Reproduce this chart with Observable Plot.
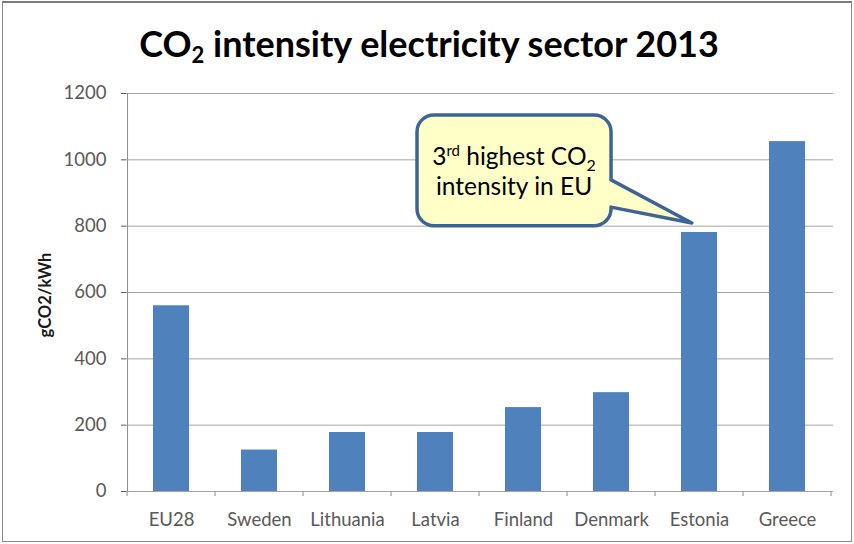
<!DOCTYPE html>
<html>
<head>
<meta charset="utf-8">
<script src="https://cdn.jsdelivr.net/npm/d3@7"></script>
<script src="https://cdn.jsdelivr.net/npm/@observablehq/plot@0.6"></script>
<style>
  html, body { margin: 0; padding: 0; background: #fff; }
  #wrap { position: relative; width: 854px; height: 544px; overflow: hidden; background: #fff; }
  #frame { position: absolute; left: 2px; top: 1px; width: 848px; height: 538px; border: 1.5px solid #8a8a8a; border-top: 2.5px solid #7a7a7a; }
  #title { position: absolute; left: 0; top: 21px; width: 858px; text-align: center; font-family: Lato, sans-serif; font-weight: bold; font-size: 36px; line-height: 44px; color: #000; }
  #title sub { font-size: 22px; vertical-align: -6px; line-height: 0; }
  #chart { position: absolute; left: 0; top: 80px; }
</style>
</head>
<body>
<div id="wrap">
  <div id="frame"></div>
  <div id="title">CO<sub>2</sub> intensity electricity sector 2013</div>
  <div id="chart"></div>
</div>
<script>
// ---- data ----
const countries = ["EU28", "Sweden", "Lithuania", "Latvia", "Finland", "Denmark", "Estonia", "Greece"];
const intensity = [560, 125, 178, 178, 253, 298, 781, 1055];
const yTicks = [0, 200, 400, 600, 800, 1000, 1200];
const yLabel = "gCO2/kWh";
// callout annotation (data units)
const calloutTarget = "Estonia";
const calloutTargetValue = 808;
const calloutBoxTop = 1134;
const calloutBoxBottom = 800;
const calloutLine1 = ["3", "rd", " highest CO", "2"];
const calloutLine2 = "intensity in EU";

const data = countries.map((c, i) => ({country: c, value: intensity[i]}));
const padInner = 0.59, padOuter = 0.295;

function svgEl(tag, attrs) {
  const e = document.createElementNS("http://www.w3.org/2000/svg", tag);
  for (const k in attrs) e.setAttribute(k, attrs[k]);
  return e;
}

// axis lines, category boundary ticks, y label
function axisDecor(index, scales, values, dims) {
  const x = scales.x, y = scales.y;
  const g = svgEl("g", {});
  const step = x(countries[1]) - x(countries[0]);
  const left = x(countries[0]) - padOuter * step;
  const y0 = y(0);
  g.appendChild(svgEl("line", {x1: left + 0.5, x2: left + 0.5, y1: y(1200), y2: y0, stroke: "#8c8c8c", "stroke-width": 1}));
  for (let k = 0; k <= countries.length; k++) {
    const bx = left + k * step;
    g.appendChild(svgEl("line", {x1: bx, x2: bx, y1: y0, y2: y0 + 5, stroke: "#8c8c8c", "stroke-width": 1}));
  }
  const midY = (y(0) + y(1200)) / 2;
  const t = svgEl("text", {transform: `translate(51,${midY + 3}) rotate(-90)`, "text-anchor": "middle", "font-family": "Lato, sans-serif", "font-weight": "bold", "font-size": 16.5, fill: "#1a1a1a"});
  t.textContent = yLabel;
  g.appendChild(t);
  return g;
}

function callout(index, scales, values, dims) {
  const x = scales.x, y = scales.y;
  const step = x(countries[1]) - x(countries[0]);
  const bw = step * (1 - padInner);
  const L = x("Latvia"), R = x("Denmark") + bw / 2;
  const T = y(calloutBoxTop), B = y(calloutBoxBottom);
  const tipX = x(calloutTarget) + bw * 0.3, tipY = y(calloutTargetValue);
  const tailTop = y(938), tailBot = y(856);
  const r = 17;
  const d = `M${L + r},${T} H${R - r} A${r},${r} 0 0 1 ${R},${T + r} V${tailTop} L${tipX},${tipY} L${R},${tailBot} V${B - r} A${r},${r} 0 0 1 ${R - r},${B} H${L + r} A${r},${r} 0 0 1 ${L},${B - r} V${T + r} A${r},${r} 0 0 1 ${L + r},${T} Z`;
  const g = svgEl("g", {});
  g.appendChild(svgEl("path", {d, fill: "#FFFFC8", stroke: "#3E6496", "stroke-width": 3.5, "stroke-linejoin": "round"}));
  const cx = (L + R) / 2;
  const t1 = svgEl("text", {x: cx, y: y(983), "text-anchor": "middle", "font-family": "Lato, sans-serif", "font-size": 24.5, fill: "#000"});
  const s0 = svgEl("tspan", {}); s0.textContent = calloutLine1[0];
  const s1 = svgEl("tspan", {dy: -9, "font-size": 15}); s1.textContent = calloutLine1[1];
  const s2 = svgEl("tspan", {dy: 9}); s2.textContent = calloutLine1[2];
  const s3 = svgEl("tspan", {dy: 6, "font-size": 16}); s3.textContent = calloutLine1[3];
  [s0, s1, s2, s3].forEach(s => t1.appendChild(s));
  g.appendChild(t1);
  const t2 = svgEl("text", {x: cx, y: y(892), "text-anchor": "middle", "font-family": "Lato, sans-serif", "font-size": 24.5, fill: "#000"});
  t2.textContent = calloutLine2;
  g.appendChild(t2);
  return g;
}

const chart = Plot.plot({
  width: 854,
  height: 464,
  marginTop: 13,
  marginBottom: 53,
  marginLeft: 126,
  marginRight: 21,
  style: {fontFamily: "Lato, sans-serif", fontSize: "18.5px", color: "#595959", background: "transparent"},
  x: {domain: countries, paddingInner: padInner, paddingOuter: padOuter, tickSize: 0, tickPadding: 21, label: null},
  y: {domain: [0, 1200], ticks: yTicks, tickSize: 5, tickPadding: 15, label: null, tickFormat: d => String(d)},
  marks: [
    Plot.ruleY(yTicks, {stroke: "#a3a3a3", strokeWidth: 1}),
    Plot.barY(data, {x: "country", y: "value", fill: "#4F81BD"}),
    axisDecor,
    callout
  ]
});
document.getElementById("chart").appendChild(chart);
</script>
</body>
</html>
